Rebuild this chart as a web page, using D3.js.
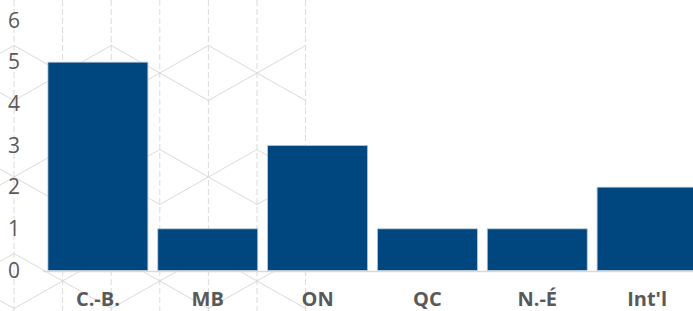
<!DOCTYPE html>
<html>
<head>
<meta charset="utf-8">
<script src="https://cdn.jsdelivr.net/npm/d3@7"></script>
<style>
    html, body { margin: 0; padding: 0; background: #fff; }
    svg { display: block; font-family: "Open Sans", sans-serif; }
</style>
</head>
<body>
<svg id="chart"></svg>
<script>
const categories = ["C.-B.", "MB", "ON", "QC", "N.-É", "Int'l"];
const values = [5, 1, 3, 1, 1, 2];
const yTicks = [0, 1, 2, 3, 4, 5, 6];

const width = 693;
const height = 311;
const svg = d3.select("#chart").attr("width", width).attr("height", height);

const x = d3
    .scaleBand()
    .domain(categories)
    .range([43, 702])
    .paddingInner(0.09)
    .paddingOuter(0.045);

const y = d3.scaleLinear().domain([0, 6]).range([270.5, 20.5]);

// Background decoration: isometric block pattern on the left half
const deco = svg.append("g").attr("class", "deco");
const colW = 48.6;
const startX = 14;
const rise = 27.5;
const lineColor = "#dadada";

for (let k = 0; k <= 6; k++) {
    deco.append("line")
        .attr("x1", startX + k * colW)
        .attr("x2", startX + k * colW)
        .attr("y1", 0)
        .attr("y2", height)
        .attr("stroke", lineColor)
        .attr("stroke-width", 1)
        .attr("stroke-dasharray", "6,3");
}

for (let k = -1; k <= 6; k++) {
    const base = Math.abs(k) % 2 === 1 ? 73 : 177;
    [base - 208, base, base + 208].forEach((sy) => {
        const sx = startX + k * colW;
        [[-1, -1], [1, -1], [-1, 1], [1, 1]].forEach(([dx, dy]) => {
            deco.append("line")
                .attr("x1", sx)
                .attr("y1", sy)
                .attr("x2", sx + dx * colW)
                .attr("y2", sy + dy * rise)
                .attr("stroke", lineColor)
                .attr("stroke-width", 1);
        });
    });
}

// Bars
svg.append("g")
    .selectAll("rect")
    .data(values)
    .enter()
    .append("rect")
    .attr("x", (d, i) => x(categories[i]))
    .attr("y", (d) => y(d))
    .attr("width", x.bandwidth())
    .attr("height", (d) => y(0) - y(d))
    .attr("fill", "#00467f")
    .attr("stroke", "#b4c6d8")
    .attr("stroke-width", 0.8);

// Baseline
svg.append("line")
    .attr("x1", 43)
    .attr("x2", width)
    .attr("y1", y(0) + 1)
    .attr("y2", y(0) + 1)
    .attr("stroke", "#d9d9d9")
    .attr("stroke-width", 1.5);

// Y axis labels
const yAxis = svg
    .append("g")
    .attr("transform", "translate(20,0)")
    .call(
        d3.axisLeft(y)
            .tickValues(yTicks)
            .tickFormat(d3.format("d"))
            .tickSize(0)
            .tickPadding(0)
    );
yAxis.select(".domain").remove();
yAxis.selectAll("text")
    .attr("fill", "#595959")
    .style("font-size", "21px")
    .style("font-family", "'Open Sans', sans-serif");

// X axis labels
const xAxis = svg
    .append("g")
    .attr("transform", `translate(0,${y(0)})`)
    .call(d3.axisBottom(x).tickSize(0).tickPadding(0));
xAxis.select(".domain").remove();
xAxis.selectAll("text")
    .attr("dy", null)
    .attr("y", 35)
    .attr("fill", "#595959")
    .style("font-size", "20px")
    .style("font-weight", "bold")
    .style("font-family", "'Open Sans', sans-serif");
</script>
</body>
</html>
